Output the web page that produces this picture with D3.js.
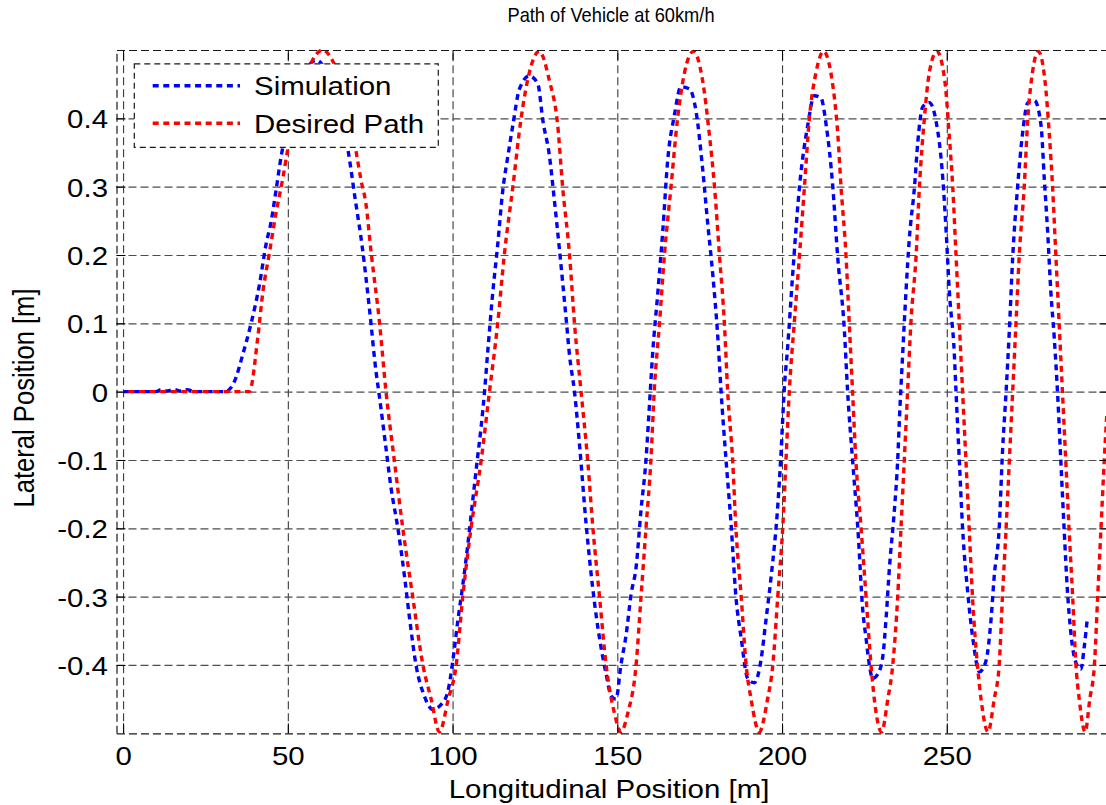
<!DOCTYPE html>
<html><head><meta charset="utf-8">
<script src="https://cdn.jsdelivr.net/npm/d3@7"></script>
<style>
body{margin:0;background:#fff;}
svg{display:block;background:#fff;}
text{font-family:"Liberation Sans",Arial,Helvetica,sans-serif;fill:#000;}
</style>
</head><body>
<svg id="chart" width="1106" height="805"></svg>
<script>
// ---------- data ----------
const titleText = "Path of Vehicle at 60km/h";
const xLabel = "Longitudinal Position [m]";
const yLabel = "Lateral Position [m]";
const seriesNames = ["Simulation", "Desired Path"];
const seriesColors = ["#0000ff", "#ff0000"];

const xTicks = [0, 50, 100, 150, 200, 250];
const xTickLabels = ["0", "50", "100", "150", "200", "250"];
const yTicks = [-0.4, -0.3, -0.2, -0.1, 0, 0.1, 0.2, 0.3, 0.4];
const yTickLabels = ["-0.4", "-0.3", "-0.2", "-0.1", "0", "0.1", "0.2", "0.3", "0.4"];
const xDomain = [-2, 299];
const yDomain = [-0.5, 0.5];

// Simulation (blue)
const simX = [0,4,10,11.5,13,15.5,17.5,19.5,21.5,25,31,33.8,36.3,38.8,41.4,43.4,44.9,46.4,48,50.5,53,56,58.8,61.5,64,66.2,68.2,70.5,72.5,74.8,76.8,77.6,79.8,81.3,83.4,85.4,86.9,88.9,91.4,94,96.5,98.5,100.1,101.6,103.1,104.6,106.1,107.5,108.7,109.7,110.7,112.2,113.7,115.2,116.8,118.3,120.3,123.3,125.9,127.4,129.4,130.9,132.4,134.5,135.5,137,138.5,140.5,142.6,144.6,146.6,148.1,149.6,151.1,152.7,154.2,155.7,157.2,158.7,159.7,160.7,162.3,163.8,165.3,167.3,169.3,171.9,173.9,175.9,177.4,179,180.5,181.5,183,184.5,186,187.6,189.6,191.6,193.6,195.1,196.7,198.7,199.7,200.7,201.7,203.2,205.3,207.8,209.8,211.8,213.4,215.4,216.9,218.9,219.9,221.4,223,224.5,225.5,226.5,227.5,229.1,230.6,231.6,232.6,234.1,235.1,235.6,236.6,237.6,238.6,240.2,241.2,242.7,244.7,246.7,248.8,249.8,250.8,252.3,252.8,253.8,254.8,256.4,257.9,259.9,261.9,263.4,264.4,265.9,266.9,268,269,270,271.5,273,274.6,276.6,278.6,279.6,280.6,281.6,282.6,283.6,284.6,285.6,286.6,287.7,289.2,290.7,291.7,292.7];
const simY = [0,0,0,0.003,0.001,0.003,0.001,0.003,0,0,0,0.015,0.054,0.099,0.157,0.216,0.248,0.294,0.345,0.4,0.44,0.475,0.485,0.47,0.44,0.4,0.355,0.28,0.215,0.12,0.028,0,-0.083,-0.14,-0.2,-0.27,-0.33,-0.4,-0.445,-0.465,-0.458,-0.44,-0.393,-0.335,-0.283,-0.225,-0.16,-0.1,-0.05,0,0.06,0.145,0.215,0.293,0.345,0.39,0.443,0.462,0.45,0.397,0.345,0.28,0.21,0.105,0.053,0,-0.076,-0.192,-0.29,-0.361,-0.413,-0.445,-0.45,-0.4,-0.355,-0.296,-0.257,-0.173,-0.1,-0.024,0.054,0.145,0.235,0.339,0.404,0.446,0.443,0.41,0.326,0.248,0.17,0.08,0,-0.1,-0.192,-0.3,-0.361,-0.42,-0.426,-0.393,-0.335,-0.27,-0.167,-0.089,0.006,0.065,0.17,0.3,0.39,0.433,0.43,0.39,0.3,0.196,0.091,0,-0.1,-0.2,-0.32,-0.361,-0.4,-0.42,-0.413,-0.387,-0.33,-0.257,-0.173,-0.1,-0.043,0.054,0.145,0.222,0.3,0.365,0.417,0.423,0.397,0.311,0.235,0.145,0.054,0,-0.1,-0.2,-0.296,-0.361,-0.41,-0.394,-0.335,-0.27,-0.2,-0.089,0,0.091,0.196,0.3,0.378,0.423,0.426,0.39,0.311,0.235,0.145,0.08,0,-0.1,-0.2,-0.29,-0.355,-0.397,-0.406,-0.374,-0.33];

// Desired Path (red)
const desX = [0,38.3,40.9,42.4,44.4,46.4,48.5,50,52.5,55,57.5,60.5,63.5,66,68.5,70.7,72.2,73.7,75.3,77.8,79.8,82.3,84.9,87.9,91,93.5,96,98.7,101.1,103.1,105.6,108.7,111.2,113.7,115.7,118.3,120.8,123.3,126.3,129.4,131.9,133.4,135.5,137,139,141,142.6,144.6,146.6,149.1,151.1,153.2,155.7,157.2,158.7,160.2,161.2,162.8,164.3,166.3,168.3,170.4,173.1,175.9,177.9,179.5,181,182.5,183.5,185,186,187.6,189.1,190.6,193.1,195.6,197.2,198.7,200.2,201.2,202.2,203.7,205.3,206.8,208.3,210.3,212.6,215.2,216.9,217.9,219.4,220.4,221.4,222.4,224,225.5,227,228,230.2,232.1,233.6,235.1,236.1,237.1,238.1,239.1,240.7,241.7,243.2,244.7,247,249.4,250.7,251.8,252.8,253.8,254.8,255.8,256.8,257.8,259.3,260.4,262.5,264.4,265.9,266.9,268,269,270,271,272,273.5,274.6,276,277.8,279.8,281.1,282.1,283.1,284.1,285.1,286.1,287.1,288.2,289.2,290.2,292,293.4,294.8,295.8,296.8,297.8,298.6];
const desY = [0,0,0.08,0.145,0.203,0.261,0.313,0.355,0.41,0.455,0.485,0.5,0.485,0.455,0.41,0.352,0.31,0.275,0.203,0.102,0,-0.1,-0.2,-0.3,-0.4,-0.45,-0.498,-0.45,-0.4,-0.3,-0.2,-0.1,0,0.1,0.2,0.3,0.4,0.467,0.498,0.455,0.39,0.3,0.2,0.1,0,-0.1,-0.2,-0.3,-0.4,-0.47,-0.498,-0.47,-0.4,-0.3,-0.2,-0.1,0,0.1,0.2,0.3,0.4,0.467,0.498,0.455,0.378,0.3,0.2,0.1,0,-0.1,-0.2,-0.3,-0.4,-0.45,-0.498,-0.45,-0.4,-0.3,-0.2,-0.1,0,0.1,0.2,0.3,0.4,0.467,0.498,0.455,0.378,0.3,0.2,0.1,0,-0.1,-0.2,-0.3,-0.4,-0.45,-0.498,-0.45,-0.4,-0.3,-0.2,-0.1,0,0.1,0.2,0.3,0.4,0.467,0.498,0.455,0.378,0.3,0.2,0.1,0,-0.1,-0.2,-0.3,-0.4,-0.45,-0.498,-0.45,-0.4,-0.3,-0.2,-0.1,0,0.1,0.2,0.3,0.4,0.467,0.498,0.455,0.378,0.3,0.2,0.1,0,-0.1,-0.2,-0.3,-0.4,-0.45,-0.498,-0.45,-0.4,-0.3,-0.2,-0.1,-0.03];

// ---------- layout ----------
const W = 1106, H = 805;
const plotL = 116.5, plotT = 50, plotB = 733.3;
const pxPerUnit = 3.2948;
const plotR = plotL + (xDomain[1] - xDomain[0]) * pxPerUnit;
const SX = 1.15; // horizontal glyph stretch seen in the reference
const fontSize = 25.6;

const svg = d3.select("#chart");
const x = d3.scaleLinear().domain(xDomain).range([plotL, plotR]);
const y = d3.scaleLinear().domain(yDomain).range([plotB, plotT]);

svg.append("rect").attr("width", W).attr("height", H).attr("fill", "#fff");

// ---------- grid ----------
const gridDash = "8,4";
const gx = svg.append("g").attr("transform", `translate(0,${plotB})`)
  .call(d3.axisBottom(x).tickValues(xTicks).tickSize(-(plotB - plotT)).tickFormat(""));
gx.select(".domain").remove();
gx.selectAll("line").attr("stroke", "#3a3a3a").attr("stroke-width", 1.1).attr("stroke-dasharray", gridDash);

const gy = svg.append("g").attr("transform", `translate(${plotL},0)`)
  .call(d3.axisLeft(y).tickValues(yTicks).tickSize(-(plotR - plotL)).tickFormat(""));
gy.select(".domain").remove();
gy.selectAll("line").attr("stroke", "#4d4d4d").attr("stroke-width", 1.2).attr("stroke-dasharray", gridDash);

// ---------- data lines ----------
svg.append("defs").append("clipPath").attr("id", "plotclip")
  .append("rect").attr("x", plotL).attr("y", plotT - 1.5).attr("width", plotR - plotL).attr("height", plotB - plotT + 3);

const line = d3.line().x(d => x(d[0])).y(d => y(d[1])).curve(d3.curveMonotoneX);
const simData = d3.zip(simX, simY);
const desData = d3.zip(desX, desY);
const lineDash = "6,4.6";
const lineW = 3.4;
const lines = svg.append("g").attr("clip-path", "url(#plotclip)");
lines.append("path").datum(simData).attr("d", line)
  .attr("fill", "none").attr("stroke", seriesColors[0]).attr("stroke-width", lineW)
  .attr("stroke-dasharray", lineDash);
lines.append("path").datum(desData).attr("d", line)
  .attr("fill", "none").attr("stroke", seriesColors[1]).attr("stroke-width", lineW)
  .attr("stroke-dasharray", lineDash).attr("stroke-dashoffset", 5.3);

// ---------- axes (box + ticks) ----------
const boxDash = "8,4";
function styleAxis(g) {
  g.select(".domain").attr("stroke", "#1a1a1a").attr("stroke-width", 1.2).attr("stroke-dasharray", boxDash);
  g.selectAll(".tick line").attr("stroke", "#000").attr("stroke-width", 1);
}
const axB = svg.append("g").attr("transform", `translate(0,${plotB})`)
  .call(d3.axisBottom(x).tickValues(xTicks).tickSizeInner(-10).tickSizeOuter(0)
    .tickFormat((d, i) => xTickLabels[i]));
styleAxis(axB);
axB.selectAll(".tick text")
  .attr("y", null).attr("dy", null)
  .attr("transform", `translate(0,${765 - plotB}) scale(${SX},1)`)
  .attr("text-anchor", "middle").style("font-size", fontSize + "px")
  .style("font-family", '"Liberation Sans",Arial,sans-serif').attr("fill", "#000");

const axT = svg.append("g").attr("transform", `translate(0,${plotT})`)
  .call(d3.axisTop(x).tickValues(xTicks).tickSizeInner(-10).tickSizeOuter(0).tickFormat(""));
styleAxis(axT);

const axL = svg.append("g").attr("transform", `translate(${plotL},0)`)
  .call(d3.axisLeft(y).tickValues(yTicks).tickSizeInner(-9).tickSizeOuter(0)
    .tickFormat((d, i) => yTickLabels[i]));
styleAxis(axL);
axL.selectAll(".tick text")
  .attr("x", null).attr("dy", null)
  .attr("transform", `translate(${108 - plotL},9.6) scale(${SX},1)`)
  .attr("text-anchor", "end").style("font-size", fontSize + "px")
  .style("font-family", '"Liberation Sans",Arial,sans-serif').attr("fill", "#000");

const axR = svg.append("g").attr("transform", `translate(${plotR},0)`)
  .call(d3.axisRight(y).tickValues(yTicks).tickSizeInner(-9).tickSizeOuter(0).tickFormat(""));
styleAxis(axR);

// ---------- legend ----------
const lg = svg.append("g");
lg.append("rect").attr("x", 134.3).attr("y", 63.8).attr("width", 304).attr("height", 83.5)
  .attr("fill", "#fff").attr("stroke", "#1a1a1a").attr("stroke-width", 1.2).attr("stroke-dasharray", "6,4");
const legY = [85.7, 123.3];
seriesNames.forEach((name, i) => {
  lg.append("line").attr("x1", 152.7).attr("x2", 240).attr("y1", legY[i]).attr("y2", legY[i])
    .attr("stroke", seriesColors[i]).attr("stroke-width", lineW).attr("stroke-dasharray", lineDash);
  lg.append("text").attr("transform", `translate(254,${legY[i] + 9.4}) scale(${SX},1)`)
    .style("font-size", fontSize + "px").text(name);
});

// ---------- titles ----------
svg.append("text").attr("transform", "translate(611,22) scale(0.87,1)").attr("text-anchor", "middle")
  .style("font-size", "21px").text(titleText);
svg.append("text").attr("transform", `translate(609,798) scale(${SX},1)`)
  .attr("text-anchor", "middle").style("font-size", fontSize + "px").text(xLabel);
svg.append("text").attr("transform", `translate(34,398) scale(${SX},1) rotate(-90)`)
  .attr("text-anchor", "middle").style("font-size", fontSize + "px").text(yLabel);
</script>
</body></html>
